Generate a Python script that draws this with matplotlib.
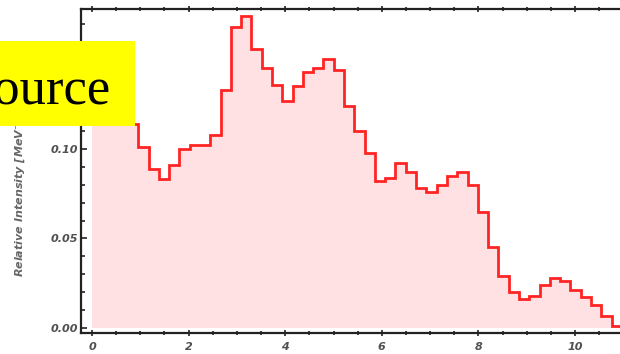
import numpy as np
import matplotlib
matplotlib.use("Agg")
import matplotlib.pyplot as plt
from matplotlib.patches import Rectangle
from matplotlib.ticker import MultipleLocator

# spectrum values, one per energy step (MeV)
step_width = 0.213
intensity = [0.126, 0.131, 0.128, 0.121, 0.114, 0.101, 0.089, 0.083, 0.091, 0.100,
             0.102, 0.102, 0.108, 0.133, 0.168, 0.1745, 0.156, 0.145, 0.136, 0.127,
             0.135, 0.143, 0.145, 0.150, 0.144, 0.124, 0.110, 0.098, 0.082, 0.084,
             0.092, 0.087, 0.078, 0.076, 0.080, 0.085, 0.087, 0.080, 0.065, 0.045,
             0.029, 0.020, 0.016, 0.018, 0.024, 0.028, 0.026, 0.021, 0.0175, 0.0127,
             0.0065, 0.0012]
x_ticks = [0, 2, 4, 6, 8, 10]
y_ticks = [0.00, 0.05, 0.10]

# centred steps, first one starts at zero
n = len(intensity)
edges = np.concatenate([[0.0], (np.arange(1, n + 1) - 0.5) * step_width])

W, H = 620, 354
fig = plt.figure(figsize=(W / 100, H / 100), dpi=100)
ax = fig.add_axes([81 / W, (H - 333) / H, (640 - 81) / W, (333 - 9) / H])

ax.stairs(intensity, edges, fill=True, color="#ffe1e4", baseline=0)
ax.stairs(intensity, edges, color="#ff2424", linewidth=2, baseline=None)

ax.set_xlim(-0.228, 11.346)
ax.set_ylim(-0.0028, 0.1782)

ax.set_xticks(x_ticks)
ax.set_yticks(y_ticks)
ax.set_xticklabels([str(t) for t in x_ticks])
ax.set_yticklabels([f"{t:.2f}" for t in y_ticks])
ax.xaxis.set_minor_locator(MultipleLocator(0.5))
ax.yaxis.set_minor_locator(MultipleLocator(0.01))
ax.tick_params(which="both", direction="in", top=True, right=False,
               width=1.2, color="#222222")
ax.tick_params(axis="x", which="both", direction="inout")
ax.tick_params(which="major", length=4.5)
ax.tick_params(which="minor", length=3)
ax.tick_params(axis="x", pad=4)
ax.tick_params(axis="y", pad=2)
for lab in ax.get_xticklabels() + ax.get_yticklabels():
    lab.set_fontsize(8)
    lab.set_fontweight("bold")
    lab.set_fontstyle("italic")
    lab.set_color("#505050")
for side in ["left", "top", "bottom", "right"]:
    ax.spines[side].set_linewidth(1.6)
    ax.spines[side].set_color("#222222")

fig.text(20 / W, 1 - 277 / H, "Relative Intensity [MeV$^{-1}$]", rotation=90,
         ha="center", va="bottom", fontsize=8, fontweight="bold",
         fontstyle="italic", color="#666666")

# yellow "Source" tag over the upper left corner
fig.add_artist(Rectangle((-0.05, 1 - 126 / H), 0.05 + 135 / W, 85 / H,
                         transform=fig.transFigure, facecolor="#ffff00",
                         edgecolor="none", zorder=5))
fig.text(111 / W, 1 - 103.5 / H, "Source", ha="right", va="baseline",
         fontsize=38, family="Liberation Serif", color="black", zorder=6)

fig.savefig("out.png", dpi=100)
